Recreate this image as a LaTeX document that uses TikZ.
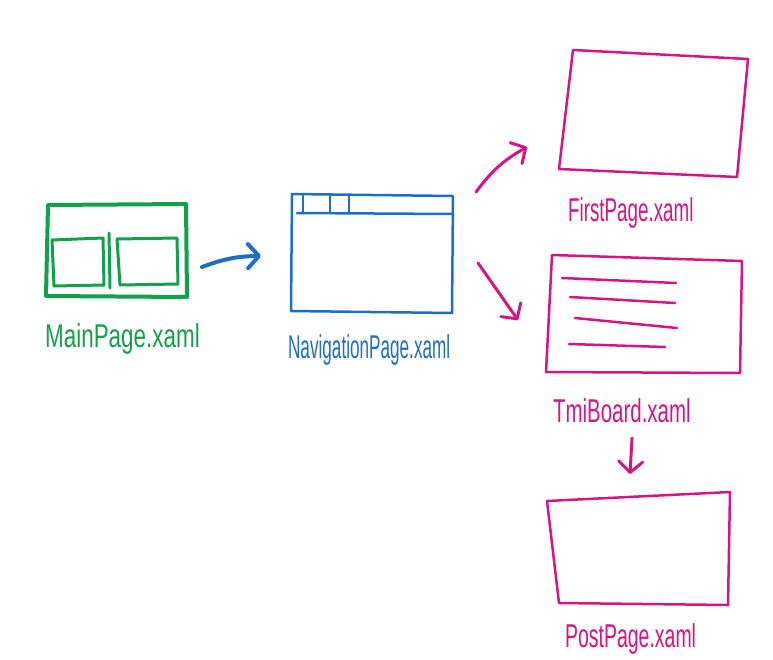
\documentclass[tikz,border=0pt]{standalone}
\usepackage{fontspec}
\setmainfont{Liberation Sans}
\usetikzlibrary{arrows.meta}
\definecolor{pagegreen}{RGB}{18,160,75}
\definecolor{navblue}{RGB}{28,110,200}
\definecolor{pagepink}{RGB}{215,20,130}
\begin{document}
\begin{tikzpicture}[x=1pt,y=-1pt]
    % styles
    \tikzset{
      greenline/.style  = {draw=pagegreen, line width=4pt, line join=round, line cap=round},
      greeninner/.style = {draw=pagegreen, line width=3pt, line join=round, line cap=round},
      blueline/.style   = {draw=navblue, line width=2.5pt, line join=round, line cap=round},
      pinkline/.style   = {draw=pagepink, line width=2.5pt, line join=round, line cap=round},
      pagelabel/.style  = {anchor=base west, inner sep=0pt, font=\fontsize{33}{33}\selectfont},
      flowarrow/.style  = {-{Straight Barb[length=11pt,width=24pt,round]}, line cap=round}
    }
    \useasboundingbox (0,0) rectangle (773,659);

    % MainPage:
    \draw[greenline] (48,205) -- (186,204) -- (187,297) -- (46,296) -- cycle;
    \draw[greeninner] (52,240) -- (103,238) -- (104,285) -- (54,286) -- cycle;
    \draw[greeninner] (109,233) -- (110,288);
    \draw[greeninner] (117,239) -- (177,238) -- (178,284) -- (120,285) -- cycle;
    \node[pagelabel, text=pagegreen, xscale=0.68] (main-label) at (45,347) {MainPage.xaml};

    % NavigationPage:
    \draw[blueline] (292,194) -- (453,196) -- (452,313) -- (291,311) -- cycle;
    \draw[blueline] (297,213) -- (453,214);
    \draw[blueline] (303,195) -- (303,212);
    \draw[blueline] (330,195) -- (330,213);
    \draw[blueline] (349,195) -- (349,213);
    \node[pagelabel, text=navblue, xscale=0.52] (nav-label) at (288,358) {NavigationPage.xaml};

    % FirstPage:
    \draw[pinkline] (573,50) -- (748,59) -- (737,177) -- (559,169) -- cycle;
    \node[pagelabel, text=pagepink, xscale=0.57] (first-label) at (568,221) {FirstPage.xaml};

    % TmiBoard:
    \draw[pinkline] (552,255) -- (742,261) -- (740,373) -- (546,372) -- cycle;
    \draw[pinkline] (562,278) -- (676,283);
    \draw[pinkline] (570,297) -- (675,303);
    \draw[pinkline] (575,318) -- (677,328);
    \draw[pinkline] (569,344) -- (665,347);
    \node[pagelabel, text=pagepink, xscale=0.62] (tmi-label) at (553,422) {TmiBoard.xaml};

    % PostPage:
    \draw[pinkline] (547,501) -- (730,492) -- (728,605) -- (559,603) -- cycle;
    \node[pagelabel, text=pagepink, xscale=0.59] (post-label) at (565,647) {PostPage.xaml};

    % Flow:
    \coordinate (main-out)  at (202,267);
    \coordinate (nav-in)    at (261,256);
    \coordinate (nav-up)    at (476,192);
    \coordinate (first-in)  at (527,147);
    \coordinate (nav-down)  at (478,263);
    \coordinate (tmi-in)    at (518,320);
    \coordinate (tmi-out)   at (632,438);
    \coordinate (post-in)   at (630,474);

    \draw[flowarrow, navblue, line width=4pt] (main-out) to[bend left=10] (nav-in);
    \draw[flowarrow, pagepink, line width=3pt] (nav-up) to[bend left=12] (first-in);
    \draw[flowarrow, pagepink, line width=3pt] (nav-down) -- (tmi-in);
    \draw[flowarrow, pagepink, line width=3pt] (tmi-out) -- (post-in);
\end{tikzpicture}
\end{document}
